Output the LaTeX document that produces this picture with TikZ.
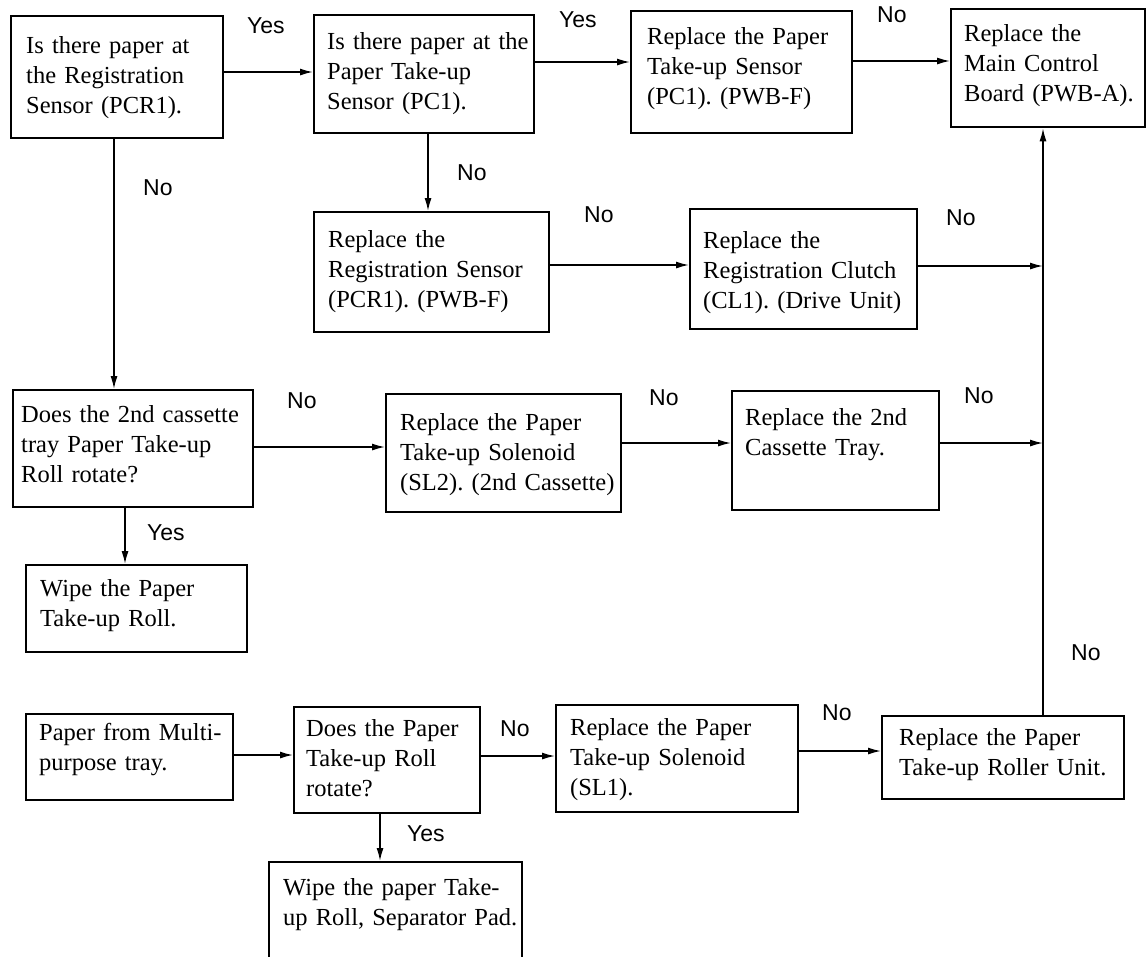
\documentclass[tikz,border=0pt]{standalone}
\usepackage{fontspec}
\setmainfont{Liberation Serif}
\newfontfamily\labelfont{Liberation Sans}
\usetikzlibrary{arrows.meta}
\frenchspacing

\tikzset{
  box/.style={draw, line width=2.3pt, inner sep=0pt, anchor=north west},
  boxtext/.style={anchor=base west, inner sep=0pt, align=left, text width=240pt,
    font=\fontsize{24.5}{30}\selectfont},
  answer/.style={anchor=base west, inner sep=0pt, font=\labelfont\fontsize{23}{27}\selectfont},
  flow/.style={line width=1.5pt, -{Latex[length=13pt,width=7pt]}},
  link/.style={line width=1.5pt}
}

\begin{document}
\begin{tikzpicture}[x=1pt, y=-1pt]
  % page frame
  \fill[white] (0,0) rectangle (1147,956);
  \useasboundingbox (0,0) rectangle (1147,956);

  % ---- boxes: top-left corner, width, height ----
  \node[box, minimum width=212pt, minimum height=122pt] (regsense)  at (10,15)  {};
  \node[box, minimum width=220pt, minimum height=118pt] (pcsense)   at (313,14) {};
  \node[box, minimum width=221pt, minimum height=122pt] (newpc)     at (630,10) {};
  \node[box, minimum width=194pt, minimum height=118pt] (mainboard) at (950,8)  {};
  \node[box, minimum width=235pt, minimum height=120pt] (newpcr)    at (313,211) {};
  \node[box, minimum width=227pt, minimum height=120pt] (clutch)    at (689,208) {};
  \node[box, minimum width=240pt, minimum height=117pt] (cassroll)  at (12,389) {};
  \node[box, minimum width=235pt, minimum height=118pt] (solsl2)    at (385,393) {};
  \node[box, minimum width=207pt, minimum height=119pt] (tray)      at (731,390) {};
  \node[box, minimum width=221pt, minimum height=87pt]  (wipeone)   at (25,564) {};
  \node[box, minimum width=207pt, minimum height=86pt]  (mptray)    at (25,713) {};
  \node[box, minimum width=186pt, minimum height=106pt] (mproll)    at (293,706) {};
  \node[box, minimum width=253pt, minimum height=130pt] (wipetwo)   at (268,861) {};
  \node[box, minimum width=242pt, minimum height=107pt] (solsl1)    at (555,704) {};
  \node[box, minimum width=242pt, minimum height=83pt]  (rollunit)  at (881,715) {};

  % ---- box texts ----
  \node[boxtext] (t1)  at (26,53)   {Is there paper at\\the Registration\\Sensor (PCR1).};
  \node[boxtext] (t2)  at (327,49)  {Is there paper at the\\Paper Take-up\\Sensor (PC1).};
  \node[boxtext] (t3)  at (647,44)  {Replace the Paper\\Take-up Sensor\\(PC1). (PWB-F)};
  \node[boxtext] (t4)  at (964,41)  {Replace the\\Main Control\\Board (PWB-A).};
  \node[boxtext] (t5)  at (328,247) {Replace the\\Registration Sensor\\(PCR1). (PWB-F)};
  \node[boxtext] (t6)  at (703,248) {Replace the\\Registration Clutch\\(CL1). (Drive Unit)};
  \node[boxtext] (t7)  at (21,422)  {Does the 2nd cassette\\tray Paper Take-up\\Roll rotate?};
  \node[boxtext] (t8)  at (400,430) {Replace the Paper\\Take-up Solenoid\\(SL2). (2nd Cassette)};
  \node[boxtext] (t9)  at (745,425) {Replace the 2nd\\Cassette Tray.};
  \node[boxtext] (t10) at (40,596)  {Wipe the Paper\\Take-up Roll.};
  \node[boxtext] (t11) at (39,740)  {Paper from Multi-\\purpose tray.};
  \node[boxtext] (t12) at (306,736) {Does the Paper\\Take-up Roll\\rotate?};
  \node[boxtext] (t13) at (283,895) {Wipe the paper Take-\\up Roll, Separator Pad.};
  \node[boxtext] (t14) at (570,735) {Replace the Paper\\Take-up Solenoid\\(SL1).};
  \node[boxtext] (t15) at (899,745) {Replace the Paper\\Take-up Roller Unit.};

  % ---- junctions on the return line ----
  \coordinate (jclutch) at (1043,266);
  \coordinate (jtray)   at (1043,443);

  % ---- connectors ----
  \draw[flow] (regsense.east |- 0,72)  -- (pcsense.west |- 0,72);
  \draw[flow] (pcsense.east |- 0,62)   -- (newpc.west |- 0,62);
  \draw[flow] (newpc.east |- 0,61)     -- (mainboard.west |- 0,61);
  \draw[flow] (pcsense.south -| 428,0) -- (newpcr.north -| 428,0);
  \draw[flow] (regsense.south -| 114,0) -- (cassroll.north -| 114,0);
  \draw[flow] (newpcr.east |- 0,265)   -- (clutch.west |- 0,265);
  \draw[flow] (clutch.east |- 0,266)   -- (jclutch);
  \draw[flow] (cassroll.east |- 0,447) -- (solsl2.west |- 0,447);
  \draw[flow] (solsl2.east |- 0,443)   -- (tray.west |- 0,443);
  \draw[flow] (tray.east |- 0,443)     -- (jtray);
  \draw[flow] (cassroll.south -| 125,0) -- (wipeone.north -| 125,0);
  \draw[flow] (mptray.east |- 0,755)   -- (mproll.west |- 0,755);
  \draw[flow] (mproll.east |- 0,756)   -- (solsl1.west |- 0,756);
  \draw[flow] (solsl1.east |- 0,751)   -- (rollunit.west |- 0,751);
  \draw[flow] (mproll.south -| 380,0)  -- (wipetwo.north -| 380,0);
  \draw[flow] (rollunit.north -| 1043,0) -- (mainboard.south -| 1043,0);

  % ---- answers ----
  \node[answer] (a1)  at (247,33)  {Yes};
  \node[answer] (a2)  at (559,27)  {Yes};
  \node[answer] (a3)  at (877,22)  {No};
  \node[answer] (a4)  at (457,180) {No};
  \node[answer] (a5)  at (143,195) {No};
  \node[answer] (a6)  at (584,222) {No};
  \node[answer] (a7)  at (946,225) {No};
  \node[answer] (a8)  at (287,408) {No};
  \node[answer] (a9)  at (649,405) {No};
  \node[answer] (a10) at (964,403) {No};
  \node[answer] (a11) at (147,540) {Yes};
  \node[answer] (a12) at (500,736) {No};
  \node[answer] (a13) at (407,841) {Yes};
  \node[answer] (a14) at (822,720) {No};
  \node[answer] (a15) at (1071,660) {No};
\end{tikzpicture}
\end{document}
